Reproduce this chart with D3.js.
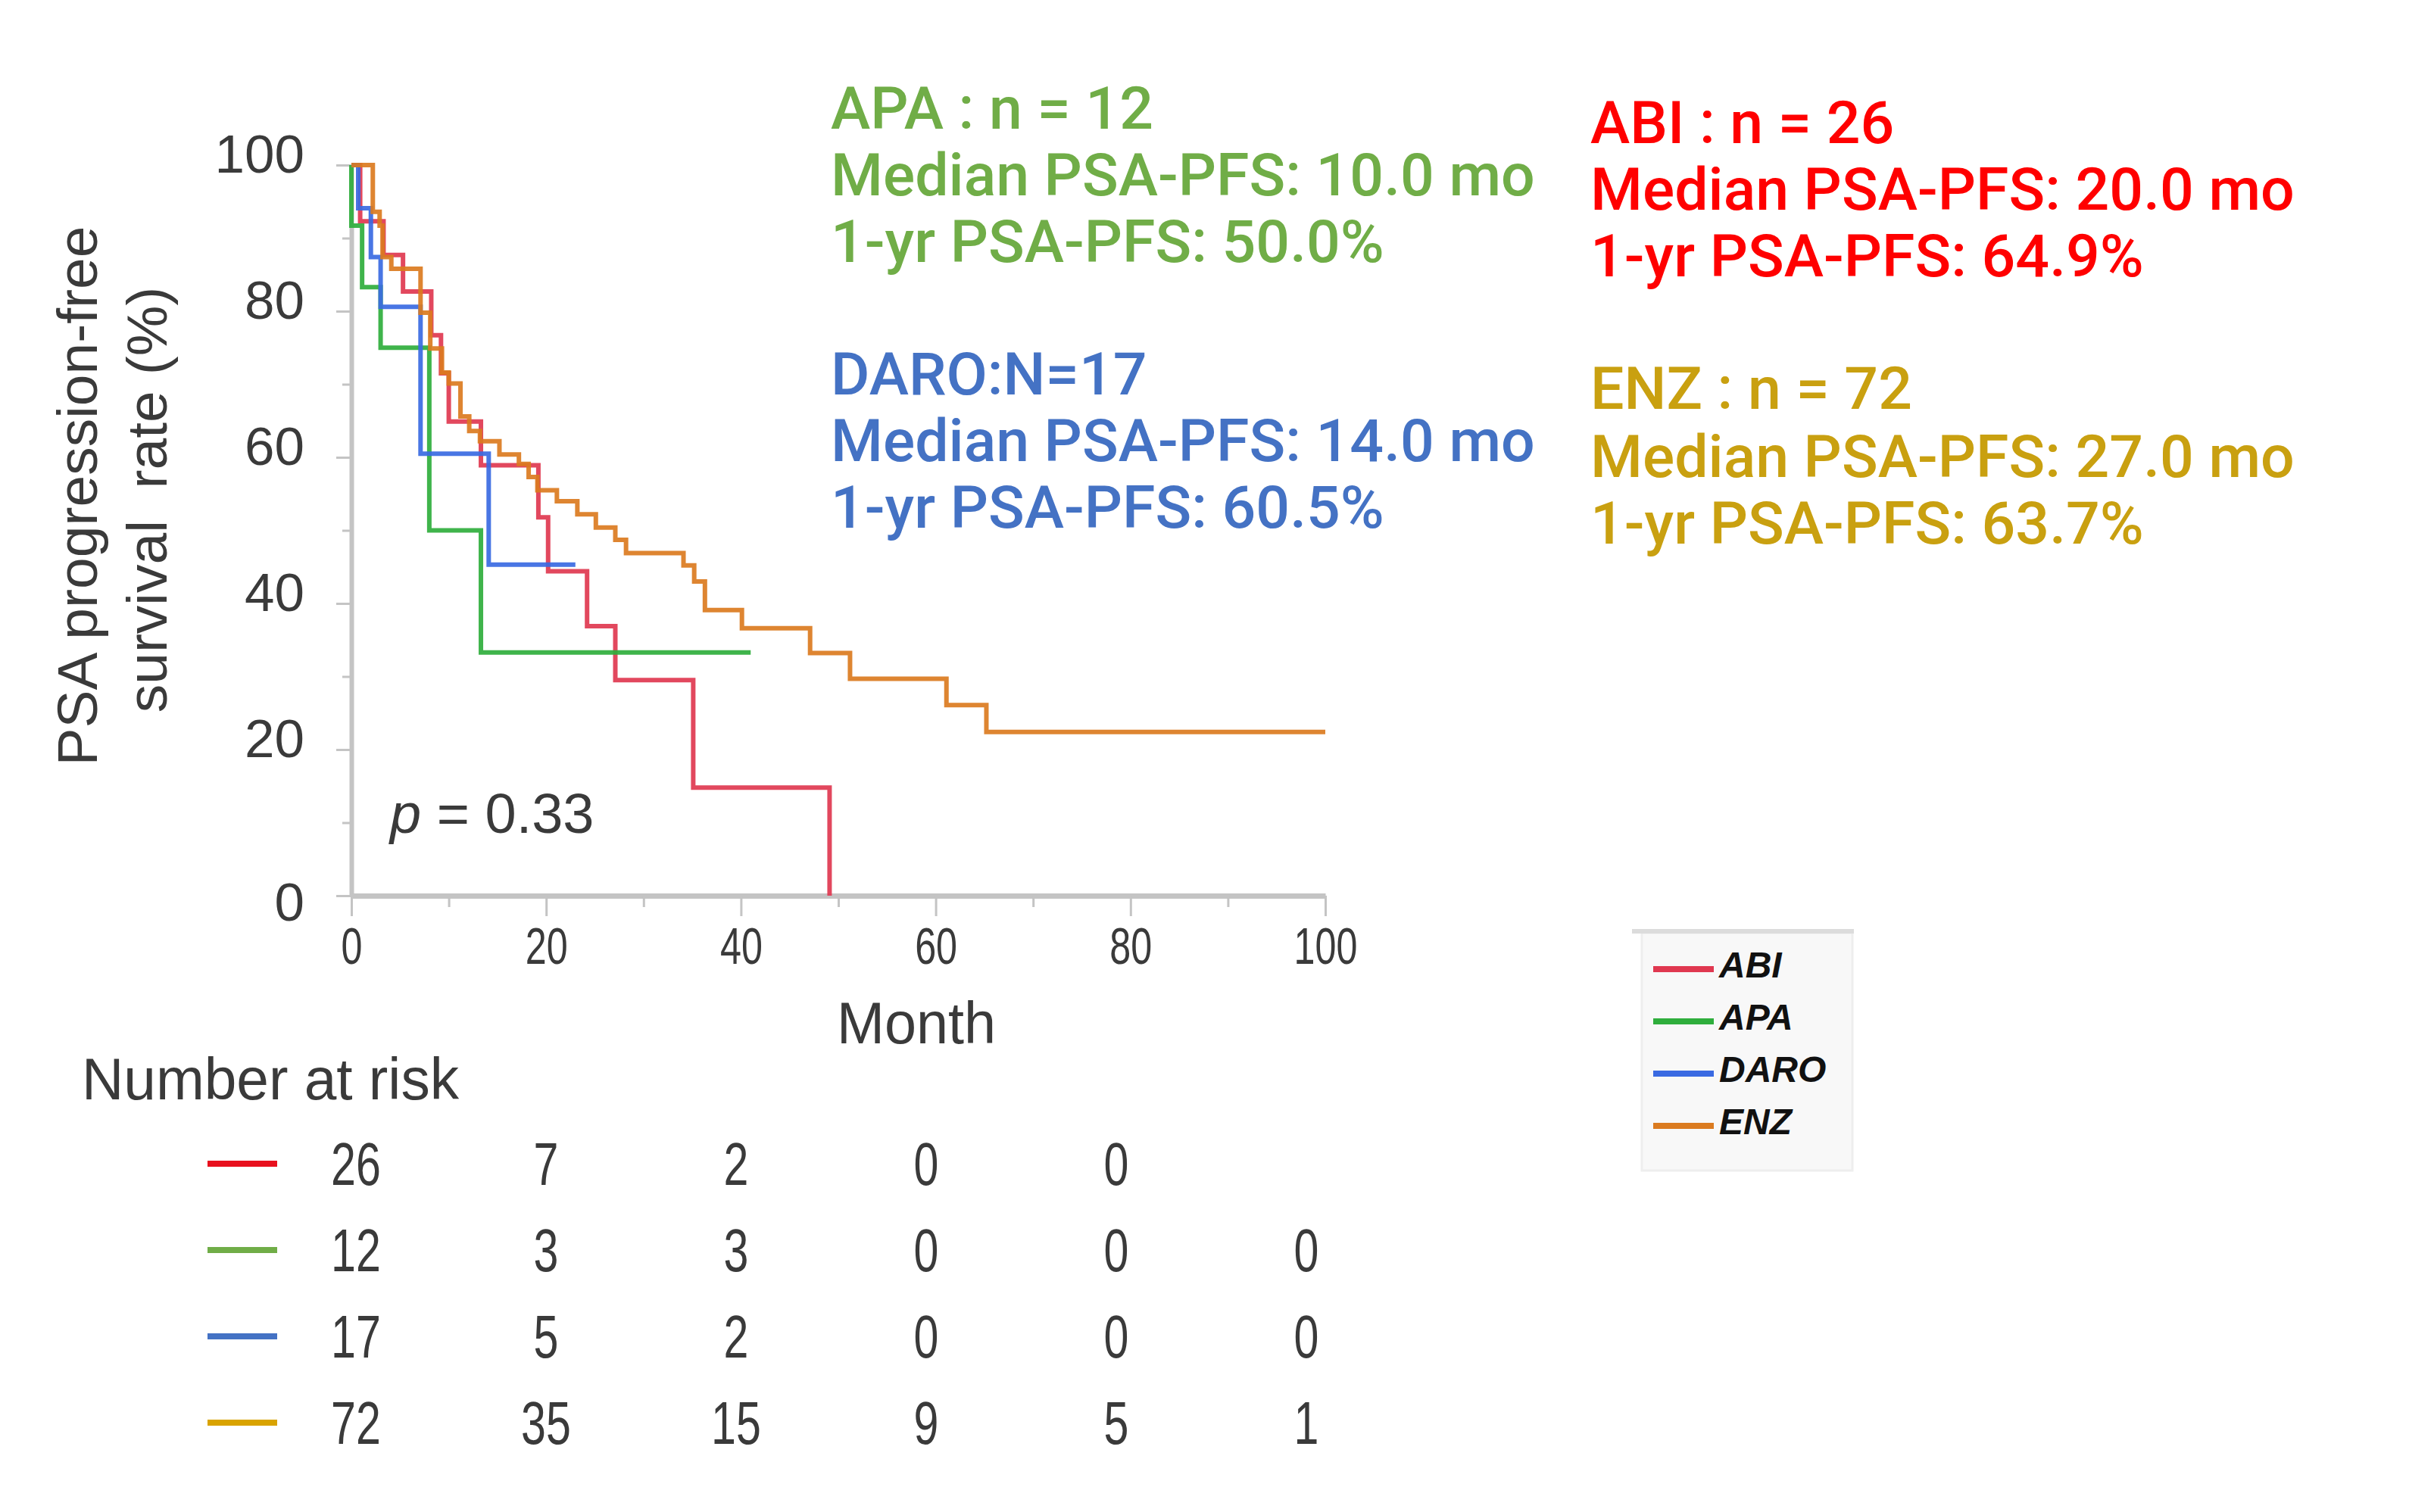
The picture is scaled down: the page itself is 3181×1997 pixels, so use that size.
<!DOCTYPE html>
<html lang="en">
<head>
<meta charset="UTF-8" />
<title>PSA progression-free survival by ARSI</title>
<script src="https://d3js.org/d3.v7.min.js"></script>
<style>
  body { margin: 0; background: #ffffff; }
  svg { display: block; background: #ffffff; }
  .narrow { font-family: "Liberation Sans Narrow", "Arial Narrow", "Liberation Sans", sans-serif; }
  .wide { font-family: "Liberation Sans", Arial, sans-serif; }
</style>
</head>
<body>
<div id="chart"></div>
<script>
// ---- data (month, survival %) ----
const groups = ["ABI", "APA", "DARO", "ENZ"];

const abiSteps = [[0,100],[0.9,92.3],[3.3,87.7],[5.3,82.7],[8.2,76.7],[9.2,71.5],[10.0,64.9],
  [13.3,58.9],[19.2,51.8],[20.2,44.4],[24.2,36.9],[27.1,29.5],[35.1,14.8],[49.1,0]];
const apaSteps = [[0,100],[0,91.7],[1.1,83.3],[3.0,75.0],[8.0,50.0],[13.3,33.3]];
const daroSteps = [[0,100],[0.7,94.1],[2.0,87.4],[3.0,80.6],[7.1,60.5],[14.1,45.3]];
const enzSteps = [[0,100],[2.2,93.6],[2.9,91.7],[3.2,87.4],[4.1,85.8],[7.1,79.8],[8.1,74.9],
  [9.3,71.6],[10.0,70.1],[11.2,65.6],[12.1,63.6],[13.2,62.2],[15.2,60.4],[17.2,59.1],
  [18.2,57.3],[19.1,55.5],[21.1,54.0],[23.2,52.2],[25.1,50.4],[27.1,48.7],[28.2,46.9],
  [34.1,45.2],[35.2,43.0],[36.3,39.1],[40.1,36.6],[47.1,33.2],[51.2,29.7],[61.1,26.1],
  [65.2,22.4]];
const lastFollowUp = [49.1, 41.0, 23.0, 100];

const xTicks = [0, 20, 40, 60, 80, 100];
const xMinorTicks = [10, 30, 50, 70, 90];
const yTicks = [0, 20, 40, 60, 80, 100];
const yMinorTicks = [10, 30, 50, 70, 90];

const riskTimes = [0, 20, 40, 60, 80, 100];
const riskAbi = [26, 7, 2, 0, 0];
const riskApa = [12, 3, 3, 0, 0, 0];
const riskDaro = [17, 5, 2, 0, 0, 0];
const riskEnz = [72, 35, 15, 9, 5, 1];

const noteAbi = ["ABI : n = 26", "Median PSA-PFS: 20.0 mo", "1-yr PSA-PFS: 64.9%"];
const noteApa = ["APA : n = 12", "Median PSA-PFS: 10.0 mo", "1-yr PSA-PFS: 50.0%"];
const noteDaro = ["DARO:N=17", "Median PSA-PFS: 14.0 mo", "1-yr PSA-PFS: 60.5%"];
const noteEnz = ["ENZ : n = 72", "Median PSA-PFS: 27.0 mo", "1-yr PSA-PFS: 63.7%"];
const pValue = "0.33";

// ---- styling ----
const lineColors = ["#e03850", "#2fae3c", "#3a6ae2", "#db7b20"];
const noteColors = ["#ff0000", "#70ad47", "#4472c4", "#c9a010"];
const riskColors = ["#e8101e", "#70ad47", "#4472c4", "#d9a300"];
const axisGray = "#c4c4c4";
const textGray = "#3a3a3a";
const squeeze = 0.74; // the figure's tick and risk digits are a condensed face

const W = 3181, H = 1997;
const svg = d3.select("#chart").append("svg")
  .attr("width", W).attr("height", H);

const x = d3.scaleLinear().domain([0, 100]).range([464, 1750]);
const y = d3.scaleLinear().domain([0, 100]).range([1183, 218]);

// ---- axes ----
function styleAxis(g, width) {
  g.select(".domain").attr("stroke", axisGray).attr("stroke-width", width);
  g.selectAll(".tick line").attr("stroke", axisGray).attr("stroke-width", 3);
}

const yAxis = svg.append("g")
  .attr("transform", `translate(${x(0)},0)`)
  .call(d3.axisLeft(y).tickValues(yTicks).tickSize(20).tickSizeOuter(0).tickPadding(42));
styleAxis(yAxis, 6);
yAxis.selectAll("text")
  .attr("class", "wide")
  .attr("font-size", 71)
  .attr("fill", textGray)
  .attr("dy", d => d === 0 ? "0.46em" : "0.14em");

const yMinor = svg.append("g")
  .attr("transform", `translate(${x(0)},0)`)
  .call(d3.axisLeft(y).tickValues(yMinorTicks).tickSize(12).tickFormat(""));
yMinor.select(".domain").remove();
yMinor.selectAll(".tick line").attr("stroke", axisGray).attr("stroke-width", 3);

const xAxis = svg.append("g")
  .attr("transform", `translate(0,${y(0)})`)
  .call(d3.axisBottom(x).tickValues(xTicks).tickSize(27).tickSizeOuter(0).tickPadding(15));
styleAxis(xAxis, 7);
xAxis.selectAll("text")
  .attr("class", "narrow")
  .attr("font-size", 68)
  .attr("fill", textGray)
  .attr("transform", `scale(${squeeze},1)`);

const xMinor = svg.append("g")
  .attr("transform", `translate(0,${y(0)})`)
  .call(d3.axisBottom(x).tickValues(xMinorTicks).tickSize(15).tickFormat(""));
xMinor.select(".domain").remove();
xMinor.selectAll(".tick line").attr("stroke", axisGray).attr("stroke-width", 3);

// axis titles
svg.append("text")
  .attr("class", "wide")
  .attr("transform", `translate(128,655) rotate(-90)`)
  .attr("text-anchor", "middle")
  .attr("font-size", 75)
  .attr("fill", textGray)
  .text("PSA progression-free");
svg.append("text")
  .attr("class", "wide")
  .attr("transform", `translate(220,660) rotate(-90)`)
  .attr("text-anchor", "middle")
  .attr("font-size", 75)
  .attr("fill", textGray)
  .style("white-space", "pre")
  .text("survival  rate (%)");

svg.append("text")
  .attr("class", "narrow")
  .attr("x", 1210).attr("y", 1378)
  .attr("text-anchor", "middle")
  .attr("font-size", 77)
  .attr("fill", textGray)
  .attr("textLength", 210)
  .attr("lengthAdjust", "spacingAndGlyphs")
  .text("Month");

// p value
const pText = svg.append("text")
  .attr("class", "wide")
  .attr("x", 515).attr("y", 1100)
  .attr("font-size", 74)
  .attr("fill", textGray);
pText.append("tspan").attr("font-style", "italic").text("p");
pText.append("tspan").text(` = ${pValue}`);

// ---- KM curves ----
const allSteps = [abiSteps, apaSteps, daroSteps, enzSteps];
const line = d3.line()
  .x(d => x(d[0]))
  .y(d => y(d[1]))
  .curve(d3.curveStepAfter);

allSteps.forEach((steps, i) => {
  const pts = steps.concat([[lastFollowUp[i], steps[steps.length - 1][1]]]);
  svg.append("path")
    .datum(pts)
    .attr("d", line)
    .attr("fill", "none")
    .attr("stroke", lineColors[i])
    .attr("stroke-width", 6)
    .attr("stroke-opacity", 0.92)
    .attr("stroke-linejoin", "miter")
    .attr("stroke-linecap", "butt");
});

// ---- annotations ----
function noteBlock(lines, color, x0, baselines) {
  const g = svg.append("g").attr("transform", `translate(${x0},0)`);
  const texts = g.selectAll("text")
    .data(lines)
    .enter()
    .append("text")
    .attr("x", 0)
    .attr("y", (d, i) => baselines[i])
    .attr("font-family", "Roboto, 'Liberation Sans', sans-serif")
    .attr("font-weight", 500)
    .attr("font-size", 78)
    .attr("fill", color)
    .text(d => d);
  // squeeze horizontally so the median line matches the figure's width
  const natural = texts.nodes()[1].getComputedTextLength();
  const sx = 930 / natural;
  g.attr("transform", `translate(${x0},0) scale(${sx},1)`);
}
noteBlock(noteApa, noteColors[1], 1097, [170, 258, 346]);
noteBlock(noteDaro, noteColors[2], 1097, [521, 609, 697]);
noteBlock(noteAbi, noteColors[0], 2100, [189, 277, 365]);
noteBlock(noteEnz, noteColors[3], 2100, [540, 630, 718]);

// ---- legend box ----
const legend = svg.append("g");
legend.append("rect")
  .attr("x", 2168).attr("y", 1232)
  .attr("width", 278).attr("height", 314)
  .attr("fill", "#f8f8f8")
  .attr("stroke", "#eeeeee")
  .attr("stroke-width", 3);
legend.append("line")
  .attr("x1", 2155).attr("x2", 2448)
  .attr("y1", 1230).attr("y2", 1230)
  .attr("stroke", "#dcdcdc")
  .attr("stroke-width", 6);
const legendY = d3.scalePoint().domain(groups).range([1280, 1487]);
const items = legend.selectAll("g.item")
  .data(groups)
  .enter()
  .append("g")
  .attr("class", "item")
  .attr("transform", d => `translate(0,${legendY(d)})`);
items.append("line")
  .attr("x1", 2183).attr("x2", 2263)
  .attr("stroke", (d, i) => lineColors[i])
  .attr("stroke-width", 8);
items.append("text")
  .attr("class", "wide")
  .attr("x", 2270).attr("y", 11)
  .attr("font-size", 48)
  .attr("font-weight", "bold")
  .attr("font-style", "italic")
  .attr("fill", "#111111")
  .text(d => d);

// ---- number at risk table ----
svg.append("text")
  .attr("class", "narrow")
  .attr("x", 108).attr("y", 1452)
  .attr("font-size", 77)
  .attr("fill", textGray)
  .attr("textLength", 498)
  .attr("lengthAdjust", "spacingAndGlyphs")
  .text("Number at risk");

const riskRows = [riskAbi, riskApa, riskDaro, riskEnz];
const rowY = d3.scalePoint().domain(groups).range([1537, 1879]);
const colX = d3.scaleLinear().domain([0, 100]).range([470, 1725]);

riskRows.forEach((row, i) => {
  const yy = rowY(groups[i]);
  svg.append("line")
    .attr("x1", 274).attr("x2", 366)
    .attr("y1", yy).attr("y2", yy)
    .attr("stroke", riskColors[i])
    .attr("stroke-width", 8);
  svg.append("g")
    .selectAll("text")
    .data(row)
    .enter()
    .append("text")
    .attr("class", "narrow")
    .attr("transform", (d, j) => `translate(${colX(riskTimes[j])},${yy + 28}) scale(${squeeze},1)`)
    .attr("text-anchor", "middle")
    .attr("font-size", 80)
    .attr("fill", textGray)
    .text(d => d);
});
</script>
</body>
</html>
